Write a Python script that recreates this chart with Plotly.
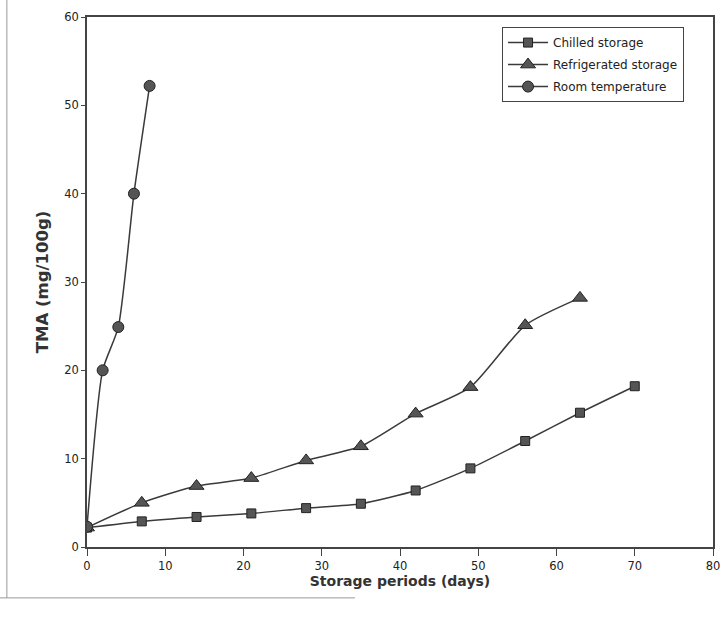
import plotly.graph_objects as go

chilled_days = [0, 7, 14, 21, 28, 35, 42, 49, 56, 63, 70]
chilled_tma = [2.2, 2.9, 3.4, 3.8, 4.4, 4.9, 6.4, 8.9, 12.0, 15.2, 18.2]

refrig_days = [0, 7, 14, 21, 28, 35, 42, 49, 56, 63]
refrig_tma = [2.2, 5.0, 6.9, 7.8, 9.8, 11.4, 15.1, 18.1, 25.1, 28.2]

room_days = [0, 2, 4, 6, 8]
room_tma = [2.3, 20.0, 24.9, 40.0, 52.2]

x_ticks = [0, 10, 20, 30, 40, 50, 60, 70, 80]
y_ticks = [0, 10, 20, 30, 40, 50, 60]

line_col = "#3a3a3a"
fill_col = "#555555"

fig = go.Figure()
fig.add_trace(go.Scatter(
    x=chilled_days, y=chilled_tma, name="Chilled storage", legendgroup="a",
    mode="lines+markers", line=dict(color=line_col, width=1.5, shape="spline", smoothing=0.6),
    marker=dict(symbol="square", size=9, color=fill_col, line=dict(color="#222", width=1))))
fig.add_trace(go.Scatter(
    x=refrig_days, y=refrig_tma, name="Refrigerated storage", legendgroup="b",
    mode="lines+markers", line=dict(color=line_col, width=1.5, shape="spline", smoothing=0.6),
    marker=dict(symbol="triangle-up", size=13, color=fill_col, line=dict(color="#222", width=1))))
fig.add_trace(go.Scatter(
    x=room_days, y=room_tma, name="Room temperature", legendgroup="c",
    mode="lines+markers", line=dict(color=line_col, width=1.5, shape="spline", smoothing=0.6),
    marker=dict(symbol="circle", size=11, color=fill_col, line=dict(color="#222", width=1))))

font_family = "DejaVu Sans, Verdana, sans-serif"

fig.update_layout(
    width=723, height=625,
    margin=dict(l=87, r=10, t=17, b=78, autoexpand=False),
    paper_bgcolor="white", plot_bgcolor="white",
    font=dict(family=font_family, size=11, color="#222"),
    showlegend=True,
    legend=dict(
        x=0.663, y=0.981, xanchor="left", yanchor="top",
        bgcolor="white", bordercolor="#444", borderwidth=1,
        font=dict(size=12, color="#222"), tracegroupgap=3,
        itemwidth=40,
    ),
    xaxis=dict(
        range=[0, 80], tickvals=x_ticks, showgrid=False, zeroline=False, automargin=False,
        showline=True, linecolor="#444", linewidth=1.5, mirror=True,
        ticks="outside", ticklen=7, tickcolor="#444",
        tickfont=dict(size=11.5, color="#222"),
        title=dict(text="<b>Storage periods (days)</b>", font=dict(size=14, color="#333"), standoff=4),
    ),
    yaxis=dict(
        range=[0, 60], tickvals=y_ticks, showgrid=False, zeroline=False, automargin=False,
        showline=True, linecolor="#444", linewidth=1.5, mirror=True,
        ticks="outside", ticklen=4, tickcolor="#444",
        tickfont=dict(size=11.5, color="#222"),
        title=dict(text="<b>TMA (mg/100g)</b>", font=dict(size=16.5, color="#333"), standoff=12),
    ),
)

# scanned figure frame fragments
fig.add_shape(type="line", xref="paper", yref="paper", x0=-0.128, x1=-0.128, y0=1.032, y1=-0.096,
              line=dict(color="#999", width=1))
fig.add_shape(type="line", xref="paper", yref="paper", x0=-0.139, x1=0.428, y0=-0.096, y1=-0.096,
              line=dict(color="#999", width=1))

fig.write_html(
    "out.html",
    config={"displayModeBar": False},
    post_script="document.body.style.margin='0';document.body.style.overflow='hidden';",
)
